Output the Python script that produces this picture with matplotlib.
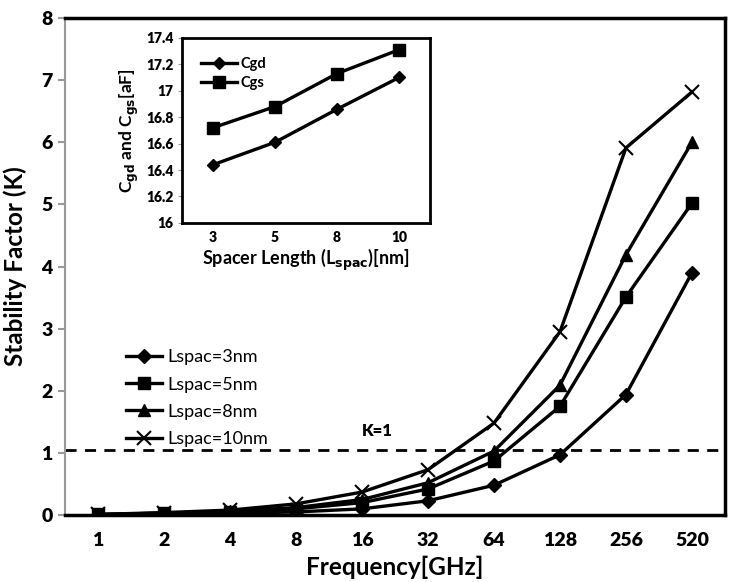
import matplotlib
matplotlib.use("Agg")
import matplotlib.pyplot as plt
import numpy as np

plt.rcParams['font.family'] = ['Lato', 'DejaVu Sans']

# main chart data
freq_labels = ["1", "2", "4", "8", "16", "32", "64", "128", "256", "520"]
k_3nm = [0.0, 0.02, 0.03, 0.05, 0.10, 0.23, 0.48, 0.97, 1.94, 3.90]
k_5nm = [0.01, 0.03, 0.05, 0.10, 0.20, 0.42, 0.87, 1.75, 3.51, 5.02]
k_8nm = [0.01, 0.03, 0.06, 0.12, 0.25, 0.52, 1.03, 2.09, 4.19, 6.00]
k_10nm = [0.01, 0.04, 0.08, 0.18, 0.37, 0.73, 1.48, 2.95, 5.91, 6.81]
k_ref = 1.05

# inset data
spacer_labels = ["3", "5", "8", "10"]
cgd = [16.44, 16.61, 16.86, 17.10]
cgs = [16.72, 16.88, 17.13, 17.31]

fig = plt.figure(figsize=(7.33, 5.82), dpi=100)
ax = fig.add_axes([0.0887, 0.115, 0.9003, 0.854])

x = np.arange(len(freq_labels))
lw = 2.4
ax.plot(x, k_3nm, color='black', lw=lw, marker='D', ms=7, label='Lspac=3nm')
ax.plot(x, k_5nm, color='black', lw=lw, marker='s', ms=9, label='Lspac=5nm')
ax.plot(x, k_8nm, color='black', lw=lw, marker='^', ms=9, label='Lspac=8nm')
ax.plot(x, k_10nm, color='black', lw=lw, marker='x', ms=10, mew=1.5, label='Lspac=10nm')
ax.axhline(k_ref, color='black', lw=2, ls=(0, (4, 3)))
ax.text(4.0, k_ref + 0.22, "K=1", fontsize=12, fontweight='heavy')

ax.set_xlim(-0.5, len(freq_labels) - 0.5)
ax.set_ylim(0, 8)
ax.set_xticks(x)
ax.set_xticklabels(freq_labels, fontsize=14, fontweight='heavy')
ax.set_yticks(range(0, 9))
ax.set_yticklabels([str(v) for v in range(0, 9)], fontsize=14, fontweight='heavy')
ax.tick_params(axis='x', length=0, pad=12)
ax.tick_params(axis='y', length=5, color='#999999', width=1.5, pad=4)
ax.spines['left'].set_color('#999999')
ax.spines['left'].set_linewidth(1.5)
for s in ['top', 'right', 'bottom']:
    ax.spines[s].set_linewidth(2.5)
ax.set_xlabel("Frequency[GHz]", fontsize=17.5, fontweight='bold', labelpad=5)
ax.set_ylabel("Stability Factor (K)", fontsize=17.5, fontweight='bold', labelpad=10)
ax.legend(loc='upper left', bbox_to_anchor=(0.068, 0.366), frameon=False,
          fontsize=13, handlelength=2.0, labelspacing=0.62, handletextpad=0.3)

# inset
ins = fig.add_axes([0.2483, 0.617, 0.3385, 0.318])
xi = np.arange(len(spacer_labels))
ins.plot(xi, cgd, color='black', lw=2.4, marker='D', ms=6, label='Cgd')
ins.plot(xi, cgs, color='black', lw=2.4, marker='s', ms=9, label='Cgs')
ins.set_xlim(-0.5, len(spacer_labels) - 0.5)
ins.set_ylim(16, 17.4)
ins.set_xticks(xi)
ins.set_xticklabels(spacer_labels, fontsize=10, fontweight='heavy')
ins.set_yticks(np.arange(16, 17.41, 0.2))
ins.set_yticklabels(["16", "16.2", "16.4", "16.6", "16.8", "17", "17.2", "17.4"],
                    fontsize=10, fontweight='heavy')
ins.tick_params(axis='x', length=0, pad=6)
ins.tick_params(axis='y', length=3, color='#999999', pad=3)
for s in ins.spines.values():
    s.set_linewidth(2)
ins.set_xlabel("Spacer Length (L$_{\\mathbf{spac}}$)[nm]", fontsize=13, fontweight='bold', labelpad=2)
ins.set_ylabel("C$_{\\mathbf{gd}}$ and C$_{\\mathbf{gs}}$[aF]", fontsize=12.5, fontweight='bold', labelpad=4)
ins.legend(loc='upper left', frameon=False, handlelength=2.5,
           labelspacing=0.35, handletextpad=0.2, borderaxespad=0.9,
           prop={'weight': 'bold', 'size': 10.5})

fig.savefig("out.png", dpi=100)
